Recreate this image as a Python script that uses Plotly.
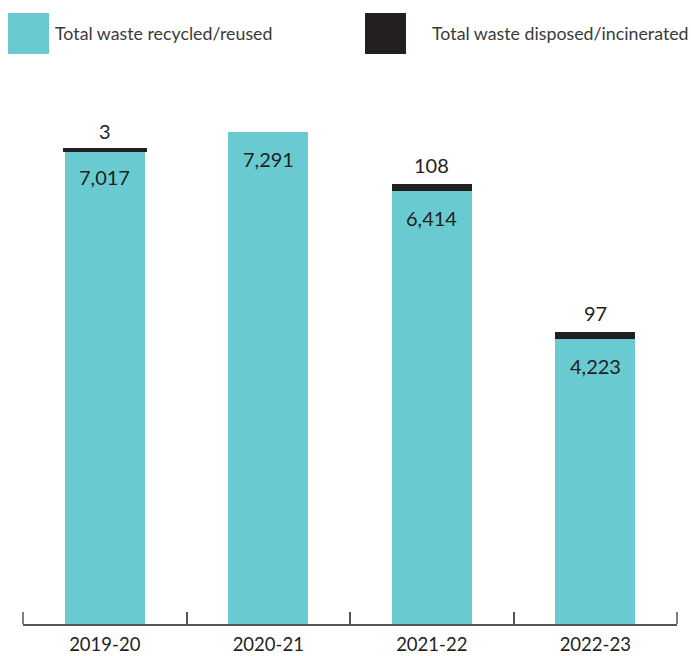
import plotly.graph_objects as go

# Waste totals by financial year (tonnes)
years = ["2019-20", "2020-21", "2021-22", "2022-23"]
recycled = [7017, 7291, 6414, 4223]
disposed = [3, 0, 108, 97]
recycled_labels = ["7,017", "7,291", "6,414", "4,223"]
disposed_labels = ["3", "", "108", "97"]
legend_names = ["Total waste recycled/reused", "Total waste disposed/incinerated"]

TEAL = "#69CBD1"
DARK = "#231F20"
TEXT = "#231F20"
AXIS = "#555555"
FONT = "Lato, 'Open Sans', sans-serif"

# plot-area geometry in pixels (used to place legend items in paper coords)
W, H = 691, 656
ML, MR, MT, MB = 23, 14, 90, 32
PW, PH = W - ML - MR, H - MT - MB
TICKLEN = 12


def px_x(p):
    return (p - ML) / PW


def px_y(p):
    return (H - MB - p) / PH


fig = go.Figure()
fig.add_bar(x=years, y=recycled, marker=dict(color=TEAL, line=dict(width=0)),
            showlegend=False, hoverinfo="skip")
fig.add_bar(x=years, y=disposed,
            marker=dict(color=DARK,
                        line=dict(color=DARK, width=[3.4 if 0 < v < 20 else 0 for v in disposed])),
            showlegend=False, hoverinfo="skip")

annotations = []
for yr, r, d, rl, dl in zip(years, recycled, disposed, recycled_labels, disposed_labels):
    annotations.append(dict(x=yr, y=r, text=rl, showarrow=False, yanchor="middle",
                            yshift=-27, font=dict(family=FONT, size=20, color=TEXT)))
    if dl:
        annotations.append(dict(x=yr, y=r + d, text=dl, showarrow=False, yanchor="middle",
                                yshift=19, font=dict(family=FONT, size=20, color=TEXT)))

# legend: large swatches with labels above the plot
swatches = [(8, 49, TEAL, 53), (365, 406, DARK, 430)]
shapes = []
for (x0, x1, col, tx), name in zip(swatches, legend_names):
    shapes.append(dict(type="rect", xref="paper", yref="paper",
                       x0=px_x(x0), x1=px_x(x1), y0=px_y(54), y1=px_y(13),
                       fillcolor=col, line=dict(width=0)))
    annotations.append(dict(xref="paper", yref="paper", x=px_x(tx), y=px_y(33),
                            xanchor="left", yanchor="middle", text=name, showarrow=False,
                            font=dict(family=FONT, size=17.8, color="#3a3a3a")))

# end ticks at the outer category boundaries
for xe in (0, 1):
    shapes.append(dict(type="line", xref="paper", yref="paper",
                       x0=xe, x1=xe, y0=0, y1=TICKLEN / PH,
                       line=dict(color=AXIS, width=1.5)))

fig.update_layout(
    width=W, height=H,
    margin=dict(l=ML, r=MR, t=MT, b=MB),
    barmode="stack", bargap=0.51,
    plot_bgcolor="white", paper_bgcolor="white",
    annotations=annotations, shapes=shapes,
    xaxis=dict(type="category", range=[-0.5, 3.5], tickson="boundaries",
               ticks="inside", ticklen=TICKLEN, tickwidth=1.5, tickcolor=AXIS,
               showline=True, linecolor=AXIS, linewidth=1.5, automargin=False,
               showgrid=False, zeroline=False, ticklabelstandoff=3,
               tickfont=dict(family=FONT, size=18.5, color=TEXT)),
    yaxis=dict(visible=False, range=[0, 7911], showgrid=False, zeroline=False,
               automargin=False),
)

fig.write_html("out.html")
